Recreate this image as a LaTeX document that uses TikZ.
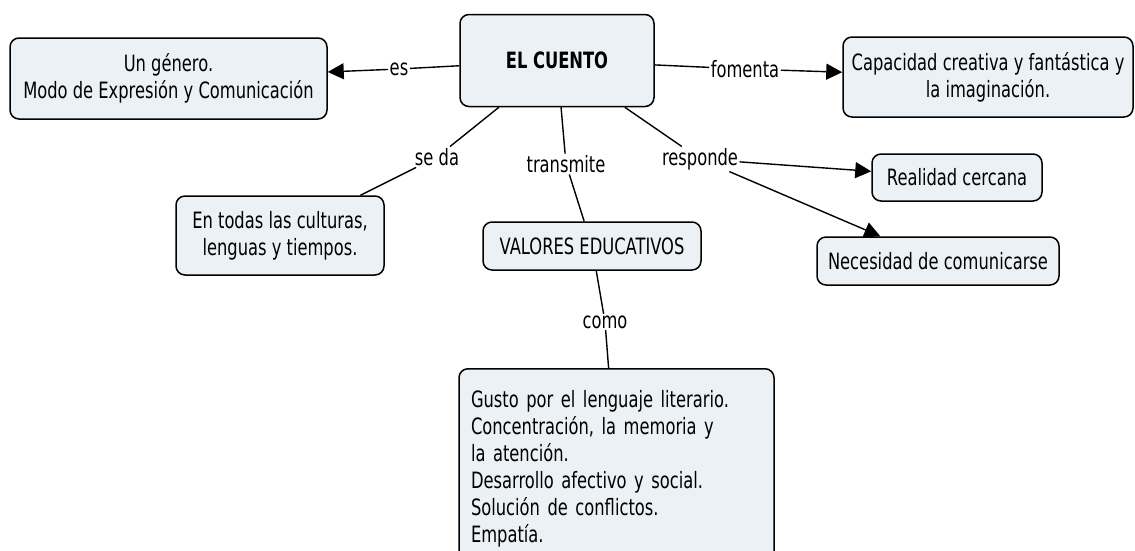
\documentclass[tikz,border=0pt]{standalone}
\usepackage{fontspec}
\setmainfont{DejaVu Sans}[FakeStretch=0.725]
\usepackage{xcolor}
\usetikzlibrary{positioning,shapes,arrows.meta}

\definecolor{boxfill}{HTML}{EBF1F4}

\tikzset{
  concept/.style={draw,line width=1.5pt,rounded corners=9pt,fill=boxfill,
    inner sep=0pt,align=center,font=\fontsize{22.5}{27}\selectfont},
  link/.style={inner sep=1pt,font=\fontsize{22.5}{24}\selectfont},
  tip/.style={-{Triangle[length=16pt,width=16pt]}}
}

\begin{document}
\begin{tikzpicture}[x=1pt,y=-1pt,line width=1.4pt]
        \useasboundingbox (0,0) rectangle (1135,550);
        % concepts
        \node[concept,minimum width=194pt,minimum height=92pt,font=\fontsize{22.5}{27}\selectfont\bfseries] (cuento) at (557,60.5) {EL CUENTO};
        \node[concept,minimum width=317pt,minimum height=81pt] (genero) at (168.5,78.5) {Un género.\\Modo de Expresión y Comunicación};
        \node[concept,minimum width=290pt,minimum height=80pt] (capacidad) at (988,77) {Capacidad creativa y fantástica y\\la imaginación.};
        \node[concept,minimum width=170pt,minimum height=47pt] (realidad) at (957,177.5) {Realidad cercana};
        \node[concept,minimum width=242pt,minimum height=48pt] (necesidad) at (938,261) {Necesidad de comunicarse};
        \node[concept,minimum width=218pt,minimum height=48pt] (valores) at (592,246) {VALORES EDUCATIVOS};
        \node[concept,minimum width=208pt,minimum height=79pt] (culturas) at (280,235.5) {En todas las culturas,\\lenguas y tiempos.};
        \node[concept,anchor=north,text width=291pt,align=left,inner xsep=12pt,inner ysep=22pt] (gusto) at (616.5,368)
          {Gusto por el lenguaje literario.\\Concentración, la memoria y\\la atención.\\Desarrollo afectivo y social.\\Solución de conflictos.\\Empatía.};
        % linking phrases
        \node[link] (es) at (399,69) {es};
        \node[link] (fomenta) at (745,69) {fomenta};
        \node[link] (seda) at (437,157) {se da};
        \node[link] (transmite) at (566,164) {transmite};
        \node[link] (responde) at (700,159) {responde};
        \node[link] (como) at (605,322) {como};
        % connectors
        \draw (cuento) -- (es);
        \draw[tip] (es) -- (genero);
        \draw (cuento) -- (fomenta);
        \draw[tip] (fomenta) -- (capacidad);
        \draw (cuento) -- (seda);
        \draw (seda) -- (culturas);
        \draw (cuento) -- (transmite);
        \draw (transmite) -- (valores);
        \draw (cuento) -- (responde);
        \draw[tip] (responde) -- (realidad);
        \draw[tip] (responde) -- (necesidad);
        \draw (valores) -- (como);
        \draw (como) -- (gusto);
    \end{tikzpicture}
\end{document}
